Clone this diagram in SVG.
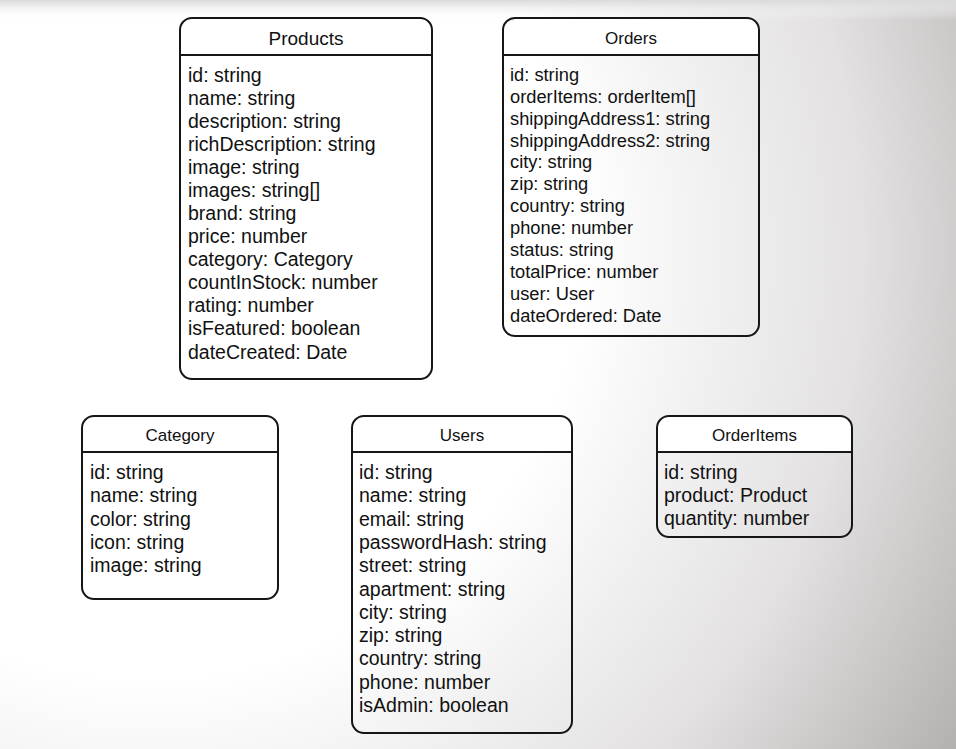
<svg xmlns="http://www.w3.org/2000/svg" width="956" height="749" viewBox="0 0 956 749">
<defs>
<radialGradient id="bg" gradientUnits="userSpaceOnUse" cx="150" cy="250" r="950">
<stop offset="0" stop-color="#ffffff"/>
<stop offset="0.45" stop-color="#ffffff"/>
<stop offset="0.75" stop-color="#e3e1e1"/>
<stop offset="1" stop-color="#b4b0b0"/>
</radialGradient>
<linearGradient id="top" x1="0" y1="0" x2="0" y2="1">
<stop offset="0" stop-color="#dadada" stop-opacity="1"/>
<stop offset="1" stop-color="#ffffff" stop-opacity="0"/>
</linearGradient>
<style>
.box{fill:none;stroke:#161616;stroke-width:2}
.hdr{fill:#ffffff;stroke:none}
.div{stroke:#161616;stroke-width:2}
.t{font-family:"Liberation Sans",Arial,Helvetica,sans-serif;fill:#111}
.title{font-size:17px;text-anchor:middle}
.row{font-size:19.5px}
</style>
</defs>
<rect width="956" height="749" fill="url(#bg)"/>
<rect width="956" height="20" fill="url(#top)"/>
<g id="connectors"/>
<g id="products">
<path class="hdr" d="M180,55 V30 A12,12 0 0 1 192,18 H420 A12,12 0 0 1 432,30 V55 Z"/>
<rect class="box" x="180" y="18" width="252" height="361" rx="12"/>
<line class="div" x1="180" y1="55" x2="432" y2="55"/>
<text class="t title" x="306" y="45" style="font-size:19px">Products</text>
<text class="t row" x="188" y="81.5">id: string</text>
<text class="t row" x="188" y="104.6">name: string</text>
<text class="t row" x="188" y="127.7">description: string</text>
<text class="t row" x="188" y="150.7">richDescription: string</text>
<text class="t row" x="188" y="173.8">image: string</text>
<text class="t row" x="188" y="196.9">images: string[]</text>
<text class="t row" x="188" y="220">brand: string</text>
<text class="t row" x="188" y="243.1">price: number</text>
<text class="t row" x="188" y="266.1">category: Category</text>
<text class="t row" x="188" y="289.2">countInStock: number</text>
<text class="t row" x="188" y="312.3">rating: number</text>
<text class="t row" x="188" y="335.4">isFeatured: boolean</text>
<text class="t row" x="188" y="358.5">dateCreated: Date</text>
</g>
<g id="orders">
<path class="hdr" d="M503,55 V30 A12,12 0 0 1 515,18 H747 A12,12 0 0 1 759,30 V55 Z"/>
<rect class="box" x="503" y="18" width="256" height="318" rx="12"/>
<line class="div" x1="503" y1="55" x2="759" y2="55"/>
<text class="t title" x="631" y="44">Orders</text>
<g style="font-size:18.3px">
<text class="t" x="510" y="80.8">id: string</text>
<text class="t" x="510" y="102.7">orderItems: orderItem[]</text>
<text class="t" x="510" y="124.6">shippingAddress1: string</text>
<text class="t" x="510" y="146.5">shippingAddress2: string</text>
<text class="t" x="510" y="168.4">city: string</text>
<text class="t" x="510" y="190.3">zip: string</text>
<text class="t" x="510" y="212.2">country: string</text>
<text class="t" x="510" y="234.1">phone: number</text>
<text class="t" x="510" y="256">status: string</text>
<text class="t" x="510" y="277.9">totalPrice: number</text>
<text class="t" x="510" y="299.8">user: User</text>
<text class="t" x="510" y="321.7">dateOrdered: Date</text>
</g>
</g>
<g id="category">
<path class="hdr" d="M82,452 V428 A12,12 0 0 1 94,416 H266 A12,12 0 0 1 278,428 V452 Z"/>
<rect class="box" x="82" y="416" width="196" height="183" rx="12"/>
<line class="div" x1="82" y1="452" x2="278" y2="452"/>
<text class="t title" x="180" y="441">Category</text>
<text class="t row" x="90" y="479">id: string</text>
<text class="t row" x="90" y="502.2">name: string</text>
<text class="t row" x="90" y="525.5">color: string</text>
<text class="t row" x="90" y="548.7">icon: string</text>
<text class="t row" x="90" y="572">image: string</text>
</g>
<g id="users">
<path class="hdr" d="M352,452 V428 A12,12 0 0 1 364,416 H560 A12,12 0 0 1 572,428 V452 Z"/>
<rect class="box" x="352" y="416" width="220" height="317" rx="12"/>
<line class="div" x1="352" y1="452" x2="572" y2="452"/>
<text class="t title" x="462" y="441">Users</text>
<text class="t row" x="359" y="479">id: string</text>
<text class="t row" x="359" y="502.3">name: string</text>
<text class="t row" x="359" y="525.6">email: string</text>
<text class="t row" x="359" y="548.9">passwordHash: string</text>
<text class="t row" x="359" y="572.2">street: string</text>
<text class="t row" x="359" y="595.5">apartment: string</text>
<text class="t row" x="359" y="618.8">city: string</text>
<text class="t row" x="359" y="642.1">zip: string</text>
<text class="t row" x="359" y="665.4">country: string</text>
<text class="t row" x="359" y="688.7">phone: number</text>
<text class="t row" x="359" y="712">isAdmin: boolean</text>
</g>
<g id="orderitems">
<path class="hdr" d="M657,452 V428 A12,12 0 0 1 669,416 H840 A12,12 0 0 1 852,428 V452 Z"/>
<rect class="box" x="657" y="416" width="195" height="121" rx="12"/>
<line class="div" x1="657" y1="452" x2="852" y2="452"/>
<text class="t title" x="754.5" y="441">OrderItems</text>
<text class="t row" x="664" y="479">id: string</text>
<text class="t row" x="664" y="501.8">product: Product</text>
<text class="t row" x="664" y="524.6">quantity: number</text>
</g>
</svg>
